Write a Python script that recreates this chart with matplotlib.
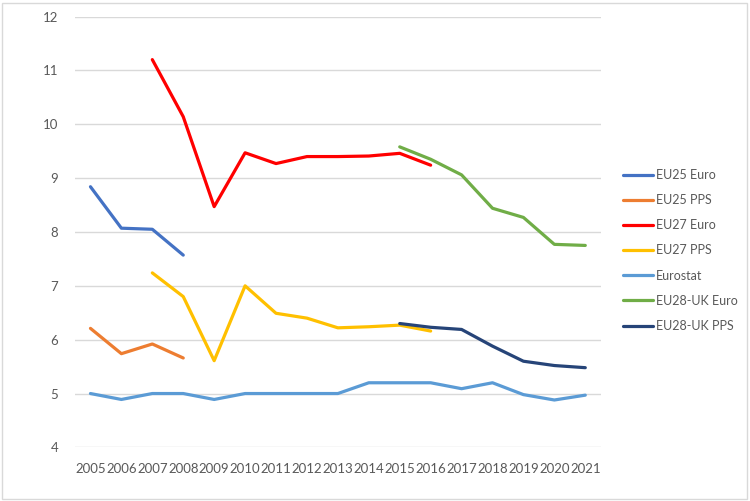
import matplotlib.pyplot as plt
from matplotlib.patches import FancyBboxPatch

plt.rcParams['font.family'] = ['Lato', 'DejaVu Sans']

years = list(range(2005, 2022))

# series values (None = no data for that year)
eu25_euro = [8.84, 8.07, 8.05, 7.57] + [None] * 13
eu25_pps = [6.21, 5.74, 5.92, 5.66] + [None] * 13
eu27_euro = [None, None, 11.2, 10.14, 8.47, 9.47, 9.27, 9.40, 9.40, 9.41, 9.46, 9.24] + [None] * 5
eu27_pps = [None, None, 7.24, 6.80, 5.61, 7.00, 6.49, 6.40, 6.22, 6.24, 6.27, 6.16] + [None] * 5
eurostat = [5.0, 4.89, 5.0, 5.0, 4.89, 5.0, 5.0, 5.0, 5.0, 5.2, 5.2, 5.2, 5.09, 5.2, 4.98, 4.88, 4.97]
eu28uk_euro = [None] * 10 + [9.58, 9.35, 9.06, 8.44, 8.27, 7.77, 7.75]
eu28uk_pps = [None] * 10 + [6.30, 6.23, 6.19, 5.88, 5.60, 5.52, 5.48]

series = [
    ("EU25 Euro", eu25_euro, "#4472C4"),
    ("EU25 PPS", eu25_pps, "#ED7D31"),
    ("EU27 Euro", eu27_euro, "#FF0000"),
    ("EU27 PPS", eu27_pps, "#FFC000"),
    ("Eurostat", eurostat, "#5B9BD5"),
    ("EU28-UK Euro", eu28uk_euro, "#70AD47"),
    ("EU28-UK PPS", eu28uk_pps, "#264478"),
]

fig = plt.figure(figsize=(7.5, 5.01), dpi=100)
ax = fig.add_axes([0.1, 0.107, 0.701, 0.86])

for name, vals, col in series:
    xs = [y for y, v in zip(years, vals) if v is not None]
    ys = [v for v in vals if v is not None]
    ax.plot(xs, ys, color=col, lw=2.3, label=name, solid_capstyle='round')

ax.set_xlim(2004.5, 2021.5)
ax.set_ylim(4, 12)
ax.set_yticks(range(4, 13))
ax.set_xticks(years)
ax.set_xticklabels([str(y) for y in years])
ax.grid(axis='y', color='#D9D9D9', lw=1)
ax.set_axisbelow(True)
for s in ax.spines.values():
    s.set_visible(False)
ax.tick_params(length=0, labelsize=9.5, colors='#595959')
ax.tick_params(axis='y', pad=12)
ax.tick_params(axis='x', pad=11)

leg = fig.legend(loc='center left', bbox_to_anchor=(0.815, 0.5), frameon=False,
                 fontsize=9, handlelength=2.4, handletextpad=0.3, labelspacing=1.05)
for t in leg.get_texts():
    t.set_color('#595959')

fig.patches.append(FancyBboxPatch((0.003, 0.004), 0.993, 0.991, boxstyle='square,pad=0',
                                  transform=fig.transFigure, fill=False,
                                  edgecolor='#D9D9D9', lw=1))

fig.savefig('out.png', dpi=100)
